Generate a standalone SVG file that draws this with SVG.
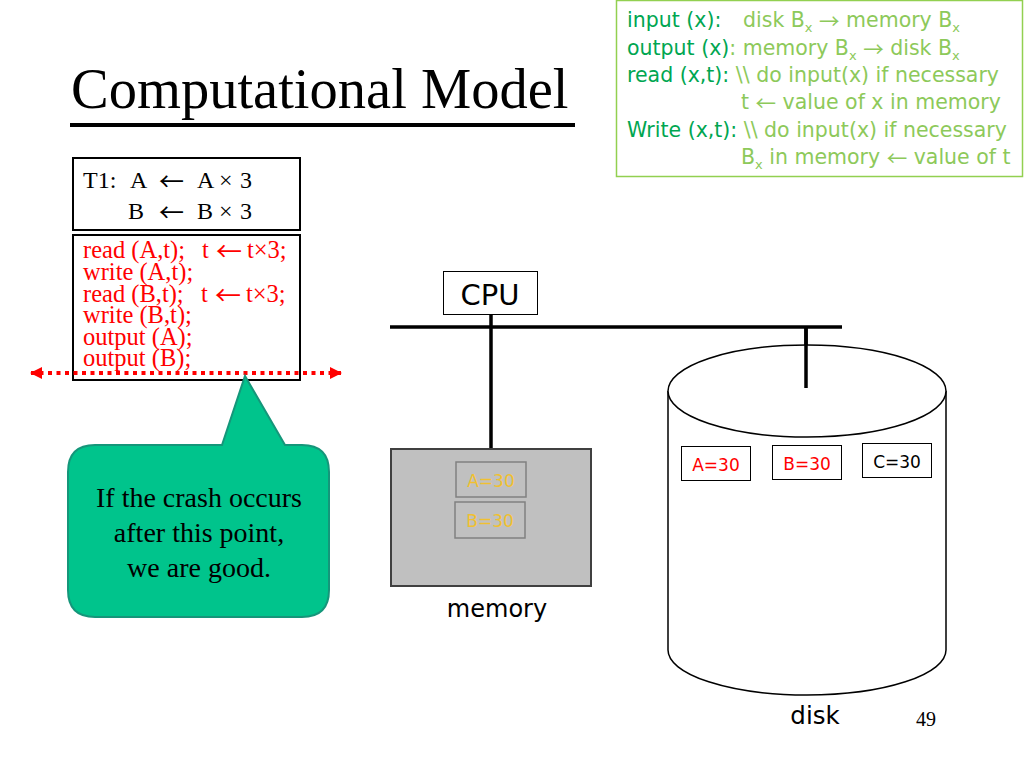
<svg xmlns="http://www.w3.org/2000/svg" width="1024" height="768" viewBox="0 0 1024 768">
<style>
.serif{font-family:"Liberation Serif","Times New Roman",serif}
.sans{font-family:"DejaVu Sans","Verdana",sans-serif}
.arr{font-family:"Noto Sans CJK SC","DejaVu Sans",sans-serif}
.box{fill:#fff;stroke:#000;stroke-width:2}
.dk{fill:#00a651}
.lt{fill:#8dc95a}
.red{fill:#ff0000}
.wire{stroke:#000;stroke-width:3.5;fill:none}
.val{font-family:"DejaVu Sans","Verdana",sans-serif;font-size:17px;text-anchor:middle}
</style>
<defs>
<marker id="ah" viewBox="0 0 12 12" refX="11" refY="6" markerWidth="12" markerHeight="12" markerUnits="userSpaceOnUse" orient="auto-start-reverse">
<path d="M0,0 L12,6 L0,12 Z" fill="#ff0000"/>
</marker>
</defs>
<rect width="1024" height="768" fill="#fff"/>

<g id="title">
<text class="serif" x="71" y="108" font-size="56.5" fill="#000">Computational Model</text>
<line x1="70" y1="125" x2="575" y2="125" stroke="#000" stroke-width="4"/>
</g>

<g id="legend">
<rect x="616.5" y="0.5" width="406" height="176" fill="#fff" stroke="#92d050" stroke-width="1.5"/>
<g class="sans" font-size="20.5">
<text x="627" y="27"><tspan class="dk">input (x):</tspan><tspan class="lt" x="743">disk B<tspan font-size="13" dy="5">x</tspan><tspan dy="-5"> </tspan><tspan class="arr" dy="2">→</tspan><tspan dy="-2"> memory B</tspan><tspan font-size="13" dy="5">x</tspan></tspan></text>
<text x="627" y="55"><tspan class="dk">output (x)</tspan><tspan class="lt">: memory B<tspan font-size="13" dy="5">x</tspan><tspan dy="-5"> </tspan><tspan class="arr" dy="2">→</tspan><tspan dy="-2"> disk B</tspan><tspan font-size="13" dy="5">x</tspan></tspan></text>
<text x="627" y="82"><tspan class="dk">read (x,t):</tspan><tspan class="lt"> \\ do input(x) if necessary</tspan></text>
<text x="741" y="109" class="lt">t <tspan class="arr" dy="2">←</tspan><tspan dy="-2"> value of x in memory</tspan></text>
<text x="627" y="137"><tspan class="dk">Write (x,t):</tspan><tspan class="lt"> \\ do input(x) if necessary</tspan></text>
<text x="741" y="164" class="lt">B<tspan font-size="13" dy="5">x</tspan><tspan dy="-5"> in memory </tspan><tspan class="arr" dy="2">←</tspan><tspan dy="-2"> value of t</tspan></text>
</g>
</g>

<g id="t1">
<rect class="box" x="73" y="158" width="227" height="72"/>
<g class="serif" font-size="24" fill="#000">
<text x="83" y="188">T1:</text>
<text x="130" y="188">A</text><text class="arr" x="159" y="191" font-size="25">←</text><text x="197" y="188">A</text><text x="219" y="188">×</text><text x="240" y="188">3</text>
<text x="128" y="219">B</text><text class="arr" x="159" y="222" font-size="25">←</text><text x="197" y="219">B</text><text x="219" y="219">×</text><text x="240" y="219">3</text>
</g>
</g>

<g id="steps">
<rect class="box" x="73" y="235" width="227" height="145"/>
<g class="serif red" font-size="24.5">
<text x="83" y="258">read (A,t);</text><text x="202" y="258">t</text><text class="arr" x="216" y="261" font-size="26">←</text><text x="247" y="258">t×3;</text>
<text x="83" y="280">write (A,t);</text>
<text x="83" y="302">read (B,t);</text><text x="201" y="302">t</text><text class="arr" x="215" y="305" font-size="26">←</text><text x="246" y="302">t×3;</text>
<text x="83" y="323">write (B,t);</text>
<text x="83" y="345">output (A);</text>
<text x="83" y="366">output (B);</text>
</g>
</g>

<g id="crashline">
<line x1="31" y1="373" x2="341" y2="373" stroke="#ff0000" stroke-width="4" stroke-dasharray="4 4.5" marker-start="url(#ah)" marker-end="url(#ah)"/>
</g>

<g id="callout">
<path d="M95,445 L222,445 L245,376 L285,445 L302,445 Q329,445 329,472 L329,590 Q329,617 302,617 L95,617 Q68,617 68,590 L68,472 Q68,445 95,445 Z" fill="#00c48c" stroke="#15967a" stroke-width="2"/>
<g class="serif" font-size="28" fill="#000" text-anchor="middle">
<text x="199" y="507">If the crash occurs</text>
<text x="199" y="542">after this point,</text>
<text x="199" y="577">we are good.</text>
</g>
</g>

<g id="connectors">
<line class="wire" x1="390" y1="327" x2="842" y2="327"/>
<line class="wire" x1="491" y1="314" x2="491" y2="448"/>
<line class="wire" x1="806" y1="327" x2="806" y2="388"/>
</g>

<g id="cpu">
<rect x="443.5" y="271.5" width="94" height="43" fill="#fff" stroke="#000" stroke-width="1"/>
<text class="sans" x="490" y="305" font-size="29" text-anchor="middle" fill="#000">CPU</text>
</g>

<g id="memory">
<rect x="391" y="449" width="200" height="137" fill="#c0c0c0" stroke="#404040" stroke-width="2"/>
<rect x="456" y="462" width="70" height="35" fill="#c0c0c0" stroke="#808080" stroke-width="1.5"/>
<text class="val" x="491" y="487" fill="#f0c030" font-size="18">A=30</text>
<rect x="455" y="502" width="70" height="36" fill="#c0c0c0" stroke="#808080" stroke-width="1.5"/>
<text class="val" x="490" y="527" fill="#f0c030" font-size="18">B=30</text>
<text class="sans" x="497" y="617" font-size="24" text-anchor="middle" fill="#000">memory</text>
</g>

<g id="disk">
<path d="M668,391 L668,650 A139,45 0 0 0 946,650 L946,391" fill="#fff" stroke="#000" stroke-width="1.5"/>
<ellipse cx="807" cy="391" rx="139" ry="46" fill="#fff" stroke="#000" stroke-width="1.5"/>
<line class="wire" x1="806" y1="327" x2="806" y2="388"/>
<rect x="681.5" y="446.5" width="69" height="34" fill="#fff" stroke="#000" stroke-width="1"/>
<text class="val" x="716" y="471" fill="#ff0000">A=30</text>
<rect x="772.5" y="445.5" width="69" height="34" fill="#fff" stroke="#000" stroke-width="1"/>
<text class="val" x="807" y="470" fill="#ff0000">B=30</text>
<rect x="862.5" y="443.5" width="69" height="34" fill="#fff" stroke="#000" stroke-width="1"/>
<text class="val" x="897" y="468" fill="#000">C=30</text>
<text class="sans" x="815" y="724" font-size="24.5" text-anchor="middle" fill="#000">disk</text>
</g>

<text class="serif" x="926" y="726" font-size="20" text-anchor="middle" fill="#000">49</text>
</svg>
